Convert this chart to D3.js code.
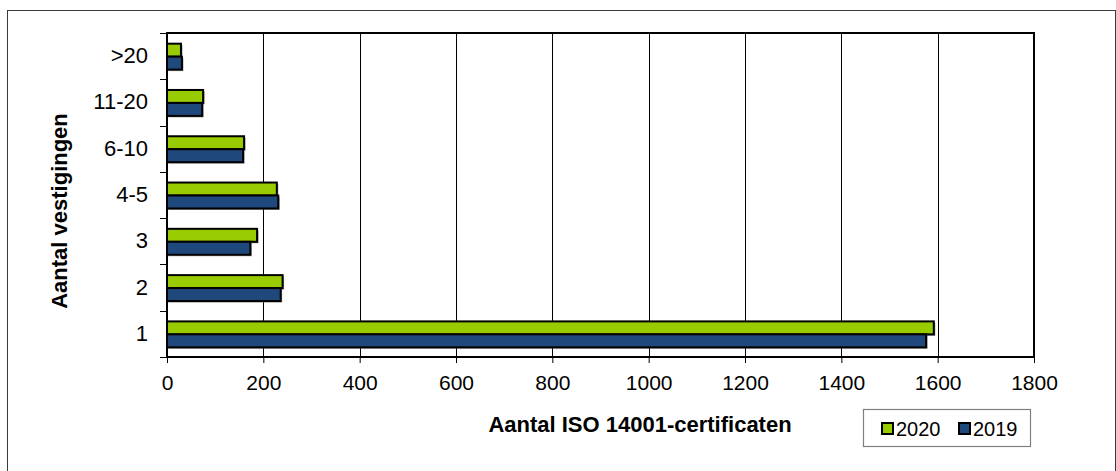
<!DOCTYPE html>
<html>
<head>
<meta charset="utf-8">
<script src="https://cdn.jsdelivr.net/npm/d3@7"></script>
<style>
  html, body { margin: 0; padding: 0; background: #fff; }
  svg { display: block; font-family: Arial, "Liberation Sans", sans-serif; }
</style>
</head>
<body>
<svg id="chart" width="1116" height="471"></svg>
<script>
const categories = [">20", "11-20", "6-10", "4-5", "3", "2", "1"];
const series2020 = [29, 75, 160, 228, 187, 240, 1592];
const series2019 = [31, 73, 158, 231, 173, 236, 1576];
const seriesNames = ["2020", "2019"];
const seriesColors = ["#99CC00", "#1F497D"];
const xTicks = [0, 200, 400, 600, 800, 1000, 1200, 1400, 1600, 1800];

const svg = d3.select("#chart");

// outer frame
svg.append("rect").attr("x", 7.5).attr("y", 10.5).attr("width", 1108).attr("height", 470)
  .attr("fill", "none").attr("stroke", "#3a3a3a").attr("stroke-width", 1);

const plot = { left: 167, right: 1034, top: 33, bottom: 357 };

const x = d3.scaleLinear().domain([0, 1800]).range([plot.left, plot.right]);
const y = d3.scaleBand().domain(categories).range([plot.top, plot.bottom]).padding(0);
const barH = y.bandwidth() * 0.28;

// gridlines
svg.append("g").selectAll("line").data(xTicks.filter(d => d > 0 && d < 1800)).join("line")
  .attr("x1", d => Math.round(x(d)) + 0.5).attr("x2", d => Math.round(x(d)) + 0.5)
  .attr("y1", plot.top).attr("y2", plot.bottom)
  .attr("stroke", "#000").attr("stroke-width", 1);

// bars
const data = categories.map((c, i) => ({ c, v: [series2020[i], series2019[i]] }));
const groups = svg.append("g").selectAll("g").data(data).join("g");
groups.each(function(d) {
  const g = d3.select(this);
  const center = y(d.c) + y.bandwidth() / 2 + 0.5;
  d.v.forEach((val, j) => {
    const top = center - barH + j * barH;
    g.append("rect").attr("x", x(0) + 1.5).attr("y", top + 1.5)
      .attr("width", x(val) - x(0)).attr("height", barH)
      .attr("fill", "#555").attr("opacity", 0.6);
    g.append("rect").attr("x", x(0)).attr("y", top)
      .attr("width", x(val) - x(0)).attr("height", barH)
      .attr("fill", seriesColors[j]).attr("stroke", "#000").attr("stroke-width", 2);
  });
});

// plot frame
svg.append("rect").attr("x", plot.left).attr("y", plot.top)
  .attr("width", plot.right - plot.left).attr("height", plot.bottom - plot.top)
  .attr("fill", "none").attr("stroke", "#000").attr("stroke-width", 2);

// x axis
const xAxis = d3.axisBottom(x).tickValues(xTicks).tickSize(6).tickPadding(12).tickFormat(d3.format("d"));
const gx = svg.append("g").attr("transform", `translate(0,${plot.bottom})`).call(xAxis);
gx.select(".domain").remove();
gx.selectAll(".tick line").attr("stroke", "#000").attr("stroke-width", 1);
gx.selectAll(".tick text").attr("font-size", 21).attr("fill", "#000")
  .attr("font-family", "Arial, 'Liberation Sans', sans-serif");

// y axis ticks at band boundaries
const bounds = categories.map(c => y(c)).concat([plot.bottom]);
svg.append("g").selectAll("line").data(bounds).join("line")
  .attr("x1", plot.left - 7).attr("x2", plot.left)
  .attr("y1", d => Math.round(d) + 0.5).attr("y2", d => Math.round(d) + 0.5)
  .attr("stroke", "#000").attr("stroke-width", 1);

// y labels
const yAxis = d3.axisLeft(y).tickSize(0).tickPadding(19);
const gy = svg.append("g").attr("transform", `translate(${plot.left},0)`).call(yAxis);
gy.select(".domain").remove();
gy.selectAll(".tick text").attr("font-size", 22).attr("fill", "#000")
  .attr("font-family", "Arial, 'Liberation Sans', sans-serif");

// axis titles
svg.append("text").attr("x", 640).attr("y", 432).attr("text-anchor", "middle")
  .attr("font-size", 22).attr("font-weight", "bold").text("Aantal ISO 14001-certificaten");
svg.append("text").attr("transform", "translate(67,211) rotate(-90)").attr("text-anchor", "middle")
  .attr("font-size", 22).attr("font-weight", "bold").text("Aantal vestigingen");

// legend
const lg = svg.append("g");
lg.append("rect").attr("x", 863.5).attr("y", 409.5).attr("width", 167).attr("height", 37)
  .attr("fill", "#fff").attr("stroke", "#808080").attr("stroke-width", 1.2);
const legendX = [882, 959];
seriesNames.forEach((n, i) => {
  lg.append("rect").attr("x", legendX[i]).attr("y", 423).attr("width", 11).attr("height", 11)
    .attr("fill", seriesColors[i]).attr("stroke", "#000").attr("stroke-width", 2);
  lg.append("text").attr("x", legendX[i] + 14).attr("y", 436).attr("font-size", 20).text(n);
});
</script>
</body>
</html>
